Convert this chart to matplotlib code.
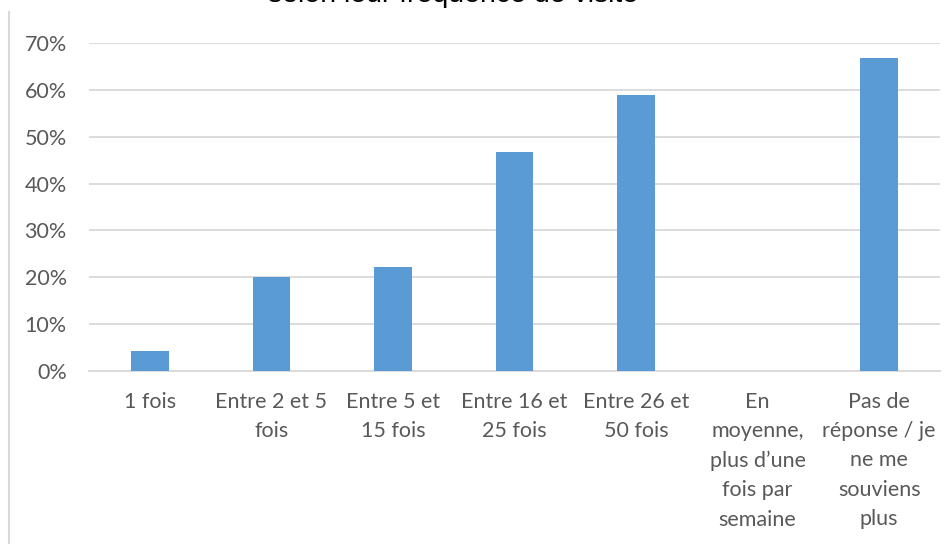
import numpy as np
from matplotlib import pyplot as plt
from matplotlib.ticker import PercentFormatter

categories = [
    "1 fois",
    "Entre 2 et 5\nfois",
    "Entre 5 et\n15 fois",
    "Entre 16 et\n25 fois",
    "Entre 26 et\n50 fois",
    "En\nmoyenne,\nplus d\u2019une\nfois par\nsemaine",
    "Pas de\nréponse / je\nne me\nsouviens\nplus",
]
values = [4.3, 20.0, 22.2, 46.7, 58.9, 0.0, 66.7]
yticks = [0, 10, 20, 30, 40, 50, 60, 70]
title = "Part des visiteurs\nselon leur fréquence de visite"

BLUE = "#5b9bd5"
GRAY = "#595959"
GRID = "#d9d9d9"


def makePlot():
    plt.rcParams["font.family"] = ["Lato", "DejaVu Sans"]
    fig = plt.figure(figsize=(9.53, 5.44), dpi=100)
    ax = fig.add_axes([89/953, 1 - 371/544, 851/953, 328/544])

    x = np.arange(len(categories))
    ax.bar(x, values, width=0.31, color=BLUE, zorder=3)

    ax.set_xlim(-0.5, len(categories) - 0.5)
    ax.set_ylim(0, 70)
    ax.set_yticks(yticks)
    ax.yaxis.set_major_formatter(PercentFormatter(decimals=0))
    ax.set_xticks(x)
    ax.set_xticklabels(categories, linespacing=1.58)
    ax.tick_params(axis="both", length=0, colors=GRAY, labelsize=15.5)
    ax.tick_params(axis="x", pad=15)
    ax.tick_params(axis="y", pad=16)
    ax.grid(axis="y", color=GRID, linewidth=1.3, zorder=0)
    for s in ["top", "right", "left"]:
        ax.spines[s].set_visible(False)
    ax.spines["bottom"].set_color(GRID)
    ax.spines["bottom"].set_linewidth(1.3)

    # chart frame, only the left edge is visible in the crop
    fig.add_artist(plt.Line2D([9.5/953, 9.5/953], [0, 1 - 12/544],
                              transform=fig.transFigure, color=GRID, lw=1.5))

    # title runs off the top of the image
    fig.text(453/953, 1 - 2/544, title, ha="center", va="baseline",
             fontsize=20.5, family=["Liberation Sans", "DejaVu Sans"],
             color="black", linespacing=1.2)

    fig.savefig("out.png", dpi=100)


makePlot()
